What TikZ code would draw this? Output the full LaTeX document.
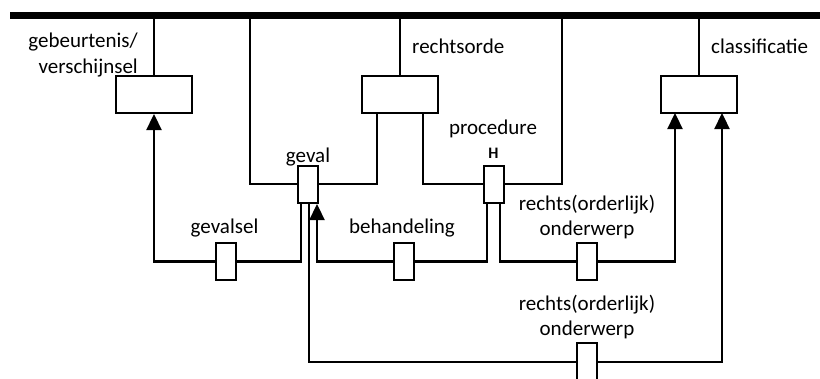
\documentclass[tikz,border=0pt]{standalone}
\usepackage{fontspec}
\setmainfont{Carlito}
\usetikzlibrary{arrows.meta}
\begin{document}
\begin{tikzpicture}[x=1pt,y=-1pt,
  bigbox/.style={draw,line width=2pt,fill=white,minimum width=76pt,minimum height=37pt,inner sep=0pt},
  smallbox/.style={draw,line width=2pt,fill=white,minimum width=20pt,minimum height=37pt,inner sep=0pt},
  thinline/.style={line width=1.3pt},
  thickline/.style={line width=2.3pt},
  arr/.style={-{Triangle[width=15pt,length=16pt]}},
  lbl/.style={inner sep=0pt,anchor=base,font=\fontsize{21}{26}\selectfont},
  lblr/.style={lbl,anchor=base east},
  lbll/.style={lbl,anchor=base west}]
\useasboundingbox (0,0) rectangle (820,378);
% top bar
\coordinate (barL) at (10,15.5);
\coordinate (barR) at (822,15.5);
\draw[line width=7pt] (barL) -- (barR);
% nodes (boxes)
\node[bigbox] (ge) at (154,94.5) {};
\node[bigbox] (ro) at (400,94.5) {};
\node[bigbox] (cl) at (699,94.5) {};
\coordinate (gevE) at (250,184);
\coordinate (proE) at (562,184);
% thin lines from the bar
\draw[thinline] (ge.north) -- (ge.north |- barL);
\draw[thinline] (ro.north) -- (ro.north |- barL);
\draw[thinline] (cl.north) -- (cl.north |- barL);
\draw[thinline] ([xshift=-23pt]ro.south) |- (gevE) -- (gevE |- barL);
\draw[thinline] ([xshift=23pt]ro.south) |- (proE) -- (proE |- barL);
% small boxes
\node[smallbox] (gv) at (308,184.5) {};
\node[smallbox] (hb) at (493.5,184.5) {};
\coordinate (lvl1) at (0,261.5);
\coordinate (lvl2) at (0,362);
% thick connectors
\draw[thickline,arr] ([xshift=-7pt]gv.south) |- (lvl1 -| ge.south) -- (ge.south);
\draw[thickline,arr] ([xshift=-6.5pt]hb.south) |- (lvl1 -| 317,0) -- ([xshift=9pt]gv.south);
\draw[thickline,arr] ([xshift=6.5pt]hb.south) |- (lvl1 -| 675,0) -- (675,113);
\node[smallbox] (gs) at (226,261.5) {};
\node[smallbox] (bh) at (403.5,261.5) {};
\node[smallbox] (r1) at (587,261.5) {};
\draw[thinline] ([xshift=1pt]gv.south) |- (lvl2 -| 577,0);
\draw[thickline,arr] (lvl2 -| 597,0) -| (722,113);
\node[smallbox] (r2) at (587,361.5) {};
% labels
\node[lblr] (l1a) at (138,47) {gebeurtenis/};
\node[lblr] (l1b) at (138,73) {verschijnsel};
\node[lbll] (l2) at (412,53) {rechtsorde};
\node[lbll] (l3) at (711,53) {classificatie};
\node[lbl] (l4) at (308,162) {geval};
\node[lbl] (l5) at (493,134) {procedure};
\node[inner sep=0pt,anchor=base,font=\fontsize{16}{18}\selectfont\bfseries] (l6) at (493.5,158) {H};
\node[lbl] (l7) at (224.5,233) {gevalsel};
\node[lbl] (l8) at (402,233) {behandeling};
\node[lbl] (l9a) at (587,210) {rechts(orderlijk)};
\node[lbl] (l9b) at (587,235) {onderwerp};
\node[lbl] (l10a) at (587,310) {rechts(orderlijk)};
\node[lbl] (l10b) at (587,335) {onderwerp};
\end{tikzpicture}
\end{document}
